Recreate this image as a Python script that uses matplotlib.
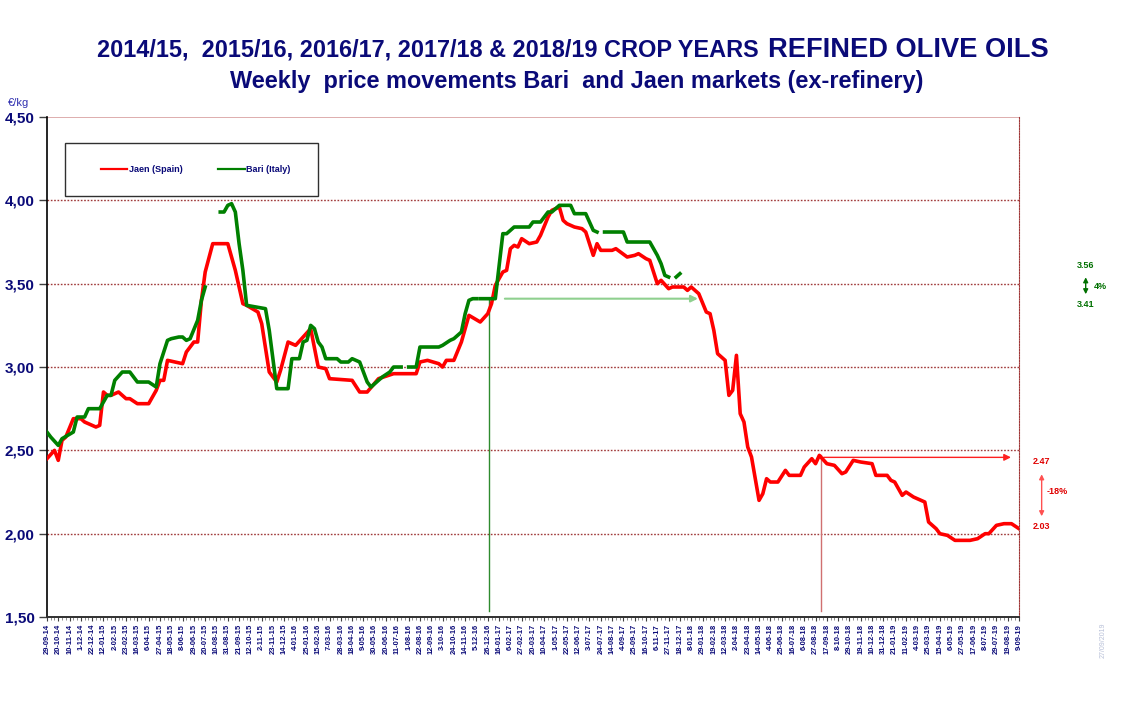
import pandas as pd
import matplotlib.pyplot as plt
import matplotlib.ticker as mticker
from matplotlib.patches import Rectangle

nan = float('nan')

# weekly prices (EUR/kg), week 0 = 29-09-2014
jaen_weeks = [0, 2, 3, 4, 5, 7, 9, 10, 12, 13, 14, 15, 16, 17, 19, 21, 22, 24, 27, 29,
              30, 31, 32, 34, 36, 37, 39, 40, 41, 42, 44, 48, 50, 52, 53, 56, 57, 59, 61, 62,
              64, 66, 68, 70, 72, 74, 75, 81, 83, 85, 88, 92, 98, 99, 101, 104, 105, 106, 108, 110,
              112, 115, 117, 118, 119, 121, 122, 123, 124, 125, 126, 128, 130, 131, 133, 134, 136, 137, 138, 140,
              142, 143, 145, 146, 147, 150, 151, 154, 156, 157, 159, 160, 162, 163, 165, 166, 169, 170, 171, 173,
              175, 176, 177, 178, 180, 181, 182, 183, 184, 185, 186, 187, 189, 190, 191, 192, 194, 196, 197, 200,
              201, 203, 204, 205, 207, 209, 211, 212, 214, 216, 219, 220, 223, 224, 225, 227, 228, 230, 231, 233,
              234, 236, 237, 239, 241, 245, 247, 249, 250, 252, 254, 256, 258]
jaen_price = [2.45, 2.50, 2.44, 2.56, 2.58, 2.69, 2.69, 2.67, 2.65, 2.64, 2.65, 2.85, 2.83, 2.83, 2.85, 2.81, 2.81, 2.78, 2.78, 2.86,
              2.92, 2.92, 3.04, 3.03, 3.02, 3.09, 3.15, 3.15, 3.40, 3.57, 3.74, 3.74, 3.58, 3.38, 3.37, 3.33, 3.26, 2.97, 2.91, 2.98,
              3.15, 3.13, 3.18, 3.23, 3.00, 2.99, 2.93, 2.92, 2.85, 2.85, 2.93, 2.96, 2.96, 3.03, 3.04, 3.02, 3.00, 3.04, 3.04, 3.15,
              3.31, 3.27, 3.32, 3.38, 3.49, 3.57, 3.58, 3.71, 3.73, 3.72, 3.77, 3.74, 3.75, 3.79, 3.90, 3.94, 3.96, 3.88, 3.86, 3.84,
              3.83, 3.81, 3.67, 3.74, 3.70, 3.70, 3.71, 3.66, 3.67, 3.68, 3.65, 3.64, 3.50, 3.52, 3.47, 3.48, 3.48, 3.46, 3.48, 3.44,
              3.33, 3.32, 3.22, 3.08, 3.04, 2.83, 2.86, 3.07, 2.72, 2.67, 2.52, 2.46, 2.20, 2.24, 2.33, 2.31, 2.31, 2.38, 2.35, 2.35,
              2.40, 2.45, 2.42, 2.47, 2.42, 2.41, 2.36, 2.37, 2.44, 2.43, 2.42, 2.35, 2.35, 2.32, 2.31, 2.23, 2.25, 2.22, 2.21, 2.19,
              2.07, 2.03, 2.00, 1.99, 1.96, 1.96, 1.97, 2.00, 2.00, 2.05, 2.06, 2.06, 2.03]

bari_weeks = [0, 1, 3, 4, 7, 8, 10, 11, 14, 16, 17, 18, 20, 22, 24, 27, 29, 30, 32, 33,
              35, 36, 37, 38, 40, 41, 42, 44, 46, 47, 48, 49, 50, 51, 52, 53, 58, 59, 61, 64,
              65, 67, 68, 69, 70, 71, 72, 73, 74, 77, 78, 80, 81, 83, 84, 85, 86, 88, 89, 91,
              92, 94, 95, 96, 98, 99, 104, 105, 107, 108, 110, 111, 112, 113, 114, 114.5, 115, 119, 121, 122,
              124, 128, 129, 131, 133, 134, 136, 139, 140, 143, 145, 146, 147, 148, 153, 154, 160, 162, 163, 164,
              165, 166, 167, 168]
bari_price = [2.61, 2.58, 2.53, 2.57, 2.61, 2.70, 2.70, 2.75, 2.75, 2.83, 2.83, 2.92, 2.97, 2.97, 2.91, 2.91, 2.88, 3.02, 3.16, 3.17,
              3.18, 3.18, 3.16, 3.17, 3.28, 3.40, 3.48, nan, 3.93, 3.93, 3.97, 3.98, 3.93, 3.74, 3.58, 3.37, 3.35, 3.22, 2.87, 2.87,
              3.05, 3.05, 3.15, 3.16, 3.25, 3.23, 3.15, 3.12, 3.05, 3.05, 3.03, 3.03, 3.05, 3.03, 2.97, 2.91, 2.88, 2.92, 2.94, 2.97,
              3.00, 3.00, nan, 3.00, 3.00, 3.12, 3.12, 3.13, 3.16, 3.17, 3.21, 3.32, 3.40, 3.41, 3.41, nan, 3.41, 3.41, 3.80, 3.80,
              3.84, 3.84, 3.87, 3.87, 3.93, 3.93, 3.97, 3.97, 3.92, 3.92, 3.82, 3.81, nan, 3.81, 3.81, 3.75, 3.75, 3.67, 3.62, 3.55,
              3.54, nan, 3.54, 3.56]

# reference points (crop-year comparison)
bari_ref_week, bari_ref, bari_end_week, bari_end, bari_pct = 117.4, 3.41, 173.5, 3.56, '4%'
jaen_ref_week, jaen_ref, jaen_end_week, jaen_end, jaen_pct = 205.4, 2.47, 256.6, 2.03, '-18%'

first_week = pd.Timestamp('2014-09-29')
n_weeks = 258
tick_dates = pd.date_range(first_week, periods=87, freq='21D')
tick_labels = [f'{d.day}-{d.month:02d}-{d:%y}' for d in tick_dates]

NAVY = '#0a0a78'
GREEN_TXT = '#007000'
RED_TXT = '#e00000'

fig = plt.figure(figsize=(11.34, 7.13), dpi=100)
plt.rcParams['font.family'] = ['Liberation Sans', 'DejaVu Sans']
ax = fig.add_axes([0.0414, 0.1346, 0.8572, 0.7013])

for lvl in [2.0, 2.5, 3.0, 3.5, 4.0]:
    ax.axhline(lvl, color='#a03838', linestyle=(0, (1.2, 1.2)), linewidth=1.0, zorder=1)
ax.axhline(4.5, color='#d8a0a0', linewidth=1.2, zorder=1)

ax.plot(jaen_weeks, jaen_price, color='#ff0000', lw=2.6, label='Jaen (Spain)',
        solid_joinstyle='round', zorder=4)
ax.plot(bari_weeks, bari_price, color='#008000', lw=2.6, label='Bari (Italy)',
        solid_joinstyle='round', zorder=5)

# crop-year reference lines
ax.plot([bari_ref_week, bari_ref_week], [1.535, bari_ref], color='#2e8b2e', lw=1.0, zorder=3)
ax.plot([jaen_ref_week, jaen_ref_week], [1.535, jaen_ref], color='#d07070', lw=1.0, zorder=3)
ax.annotate('', xy=(bari_end_week, bari_ref), xytext=(bari_ref_week + 3.4, bari_ref),
            arrowprops=dict(arrowstyle='-|>', color='#8fd08f', lw=1.5, mutation_scale=10), zorder=3)
ax.annotate('', xy=(jaen_end_week, jaen_ref - 0.012), xytext=(jaen_ref_week, jaen_ref - 0.012),
            arrowprops=dict(arrowstyle='-|>', color='#ff2020', lw=1.0, mutation_scale=10), zorder=3)

ax.set_xlim(0, n_weeks)
ax.set_ylim(1.5, 4.5)

# side annotations (outside the plot, x in axes fraction, y in EUR/kg)
tr = ax.get_yaxis_transform()
txt = dict(transform=tr, ha='center', va='center', fontsize=6.5, fontweight='bold', clip_on=False)

gx = 1.0686
ax.text(gx, bari_end + 0.047, f'{bari_end:.2f}', color=GREEN_TXT, **txt)
ax.text(gx, bari_ref - 0.037, f'{bari_ref:.2f}', color=GREEN_TXT, **txt)
ax.text(gx + 0.015, (bari_end + bari_ref) / 2 + 0.0, bari_pct, color=GREEN_TXT, **txt)
ax.annotate('', xy=(gx, bari_end - 0.005), xytext=(gx, bari_ref + 0.01), xycoords=tr, textcoords=tr,
            arrowprops=dict(arrowstyle='<|-|>', color=GREEN_TXT, lw=1.0, mutation_scale=7),
            annotation_clip=False)

rx = 1.0233
ax.text(rx, jaen_ref - 0.037, f'{jaen_ref:.2f}', color=RED_TXT, **txt)
ax.text(rx, jaen_end + 0.014, f'{jaen_end:.2f}', color=RED_TXT, **txt)
ax.text(rx + 0.016, 2.254, jaen_pct, color=RED_TXT, **txt)
ax.annotate('', xy=(rx, jaen_ref - 0.097), xytext=(rx, jaen_end + 0.058), xycoords=tr, textcoords=tr,
            arrowprops=dict(arrowstyle='<|-|>', color='#ff5050', lw=1.0, mutation_scale=7),
            annotation_clip=False)

# spines and ticks
ax.spines['top'].set_visible(False)
ax.spines['right'].set_color('#a03838')
ax.spines['right'].set_linestyle((0, (1.2, 1.2)))
ax.spines['left'].set_color('black')
ax.spines['left'].set_linewidth(1.2)
ax.spines['bottom'].set_color('#303030')
ax.spines['bottom'].set_linewidth(1.4)

ax.yaxis.set_major_locator(mticker.MultipleLocator(0.5))
ax.yaxis.set_major_formatter(mticker.FuncFormatter(lambda y, _: f'{y:.2f}'.replace('.', ',')))
ax.tick_params(axis='y', length=6, width=1, color='#404040', pad=3, labelsize=11, labelcolor=NAVY)
for lab in ax.get_yticklabels():
    lab.set_fontweight('bold')

ax.set_xticks(range(0, n_weeks + 1, 3))
ax.set_xticklabels(tick_labels, rotation=90, fontsize=5.4, fontweight='bold', color=NAVY)
ax.xaxis.set_minor_locator(mticker.MultipleLocator(1))
ax.tick_params(axis='x', which='major', length=3, width=0.8, color='#404040', pad=2)
ax.tick_params(axis='x', which='minor', length=2, width=0.5, color='#606060')

# legend box
ax.add_patch(Rectangle((0.0185, 0.842), 0.2603, 0.106, transform=ax.transAxes,
                       facecolor='white', edgecolor='#303030', lw=1.0, zorder=6))
leg = ax.legend(loc='center', bbox_to_anchor=(0.153, 0.895), ncol=2, frameon=False,
                fontsize=6.5, handlelength=2.9, columnspacing=4.0, handletextpad=0.2,
                labelcolor=NAVY)
leg.set_zorder(7)
for line in leg.get_lines():
    line.set_linewidth(1.6)
for t in leg.get_texts():
    t.set_fontweight('bold')

# titles
fig.text(765 / 1134, 1 - 57 / 713, '2014/15,  2015/16, 2016/17, 2017/18 & 2018/19 CROP YEARS ',
         ha='right', va='baseline', fontsize=16.9, fontweight='bold', color=NAVY)
fig.text(768 / 1134, 1 - 57 / 713, 'REFINED OLIVE OILS',
         ha='left', va='baseline', fontsize=19.6, fontweight='bold', color=NAVY)
fig.text(577 / 1134, 1 - 88 / 713, 'Weekly  price movements Bari  and Jaen markets (ex-refinery)',
         ha='center', va='baseline', fontsize=16.9, fontweight='bold', color=NAVY)
fig.text(8 / 1134, 1 - 103 / 713, '€/kg', ha='left', va='center', fontsize=8, color='#3030b0')
fig.text(1103 / 1134, 1 - 640 / 713, '27/09/2019', rotation=90, ha='center', va='center',
         fontsize=5, color='#b8c0d8')

fig.savefig('out.png', dpi=100)
